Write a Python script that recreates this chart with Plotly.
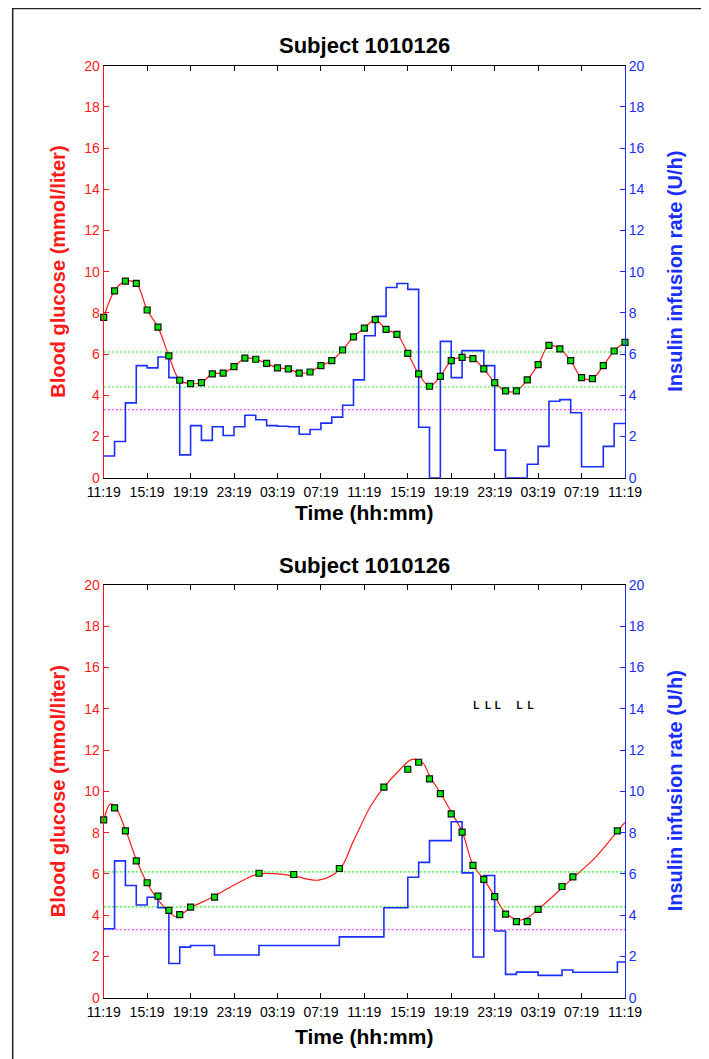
import plotly.graph_objects as go

TITLE = "Subject 1010126"
TICK_HOURS = list(range(0, 49, 4))
TICK_LABELS = ["11:19", "15:19", "19:19", "23:19", "03:19", "07:19", "11:19",
               "15:19", "19:19", "23:19", "03:19", "07:19", "11:19"]
Y_TICKS = list(range(0, 21, 2))
THRESH_GREEN = [6.1, 4.4]
THRESH_MAGENTA = [3.3]

# ---- top panel ----
top_glucose_hours = list(range(49))
top_glucose = [7.78, 9.07, 9.54, 9.43, 8.14, 7.31, 5.91, 4.73, 4.57, 4.62,
               5.04, 5.08, 5.39, 5.80, 5.75, 5.55, 5.33, 5.28, 5.08, 5.13,
               5.44, 5.68, 6.20, 6.84, 7.26, 7.67, 7.20, 6.96, 6.04, 5.04,
               4.44, 4.92, 5.68, 5.84, 5.78, 5.28, 4.62, 4.21, 4.21, 4.75,
               5.49, 6.42, 6.25, 5.68, 4.86, 4.81, 5.44, 6.15, 6.57]
top_insulin_edges = list(range(49))
top_insulin = [1.05, 1.76, 3.63, 5.44, 5.33, 5.86, 4.86, 1.11, 2.53, 1.81,
               2.47, 2.05, 2.47, 3.03, 2.81, 2.53, 2.50, 2.47, 2.11, 2.34,
               2.65, 2.94, 3.52, 4.75, 6.89, 7.83, 9.23, 9.43, 9.14, 2.45,
               0.0, 6.62, 4.86, 6.17, 6.17, 5.44, 1.34, 0.0, 0.0, 0.65,
               1.52, 3.71, 3.79, 3.15, 0.53, 0.53, 1.52, 2.63]

# ---- bottom panel ----
bot_glucose_hours = [0, 1, 2, 3, 4, 5, 6, 7, 8, 10.2, 14.3, 17.5, 21.7, 25.8,
                     28, 29, 30, 31, 32, 33, 34, 35, 36, 37, 38, 39, 40,
                     42.2, 43.2, 47.3]
bot_glucose = [8.62, 9.20, 8.08, 6.63, 5.57, 4.92, 4.23, 4.03, 4.39, 4.87,
               6.03, 5.97, 6.26, 10.20, 11.07, 11.41, 10.60, 9.89, 8.91, 8.02,
               6.41, 5.73, 4.90, 4.05, 3.69, 3.69, 4.28, 5.39, 5.86, 8.08]
bot_curve_hours = [0, 0.6, 1.0, 2.0, 3.0, 4.0, 5.0, 6.0, 6.7, 8.0, 10.2, 12.3,
                   14.3, 16.0, 17.5, 19.8, 21.7, 23.0, 24.6, 25.8, 27.0, 28.4,
                   29.4, 30.0, 31.0, 32.0, 33.0, 34.0, 35.0, 36.0, 37.0, 38.3,
                   39.0, 40.0, 42.2, 43.2, 45.1, 47.3, 48.0]
bot_curve = [8.6, 9.38, 9.3, 8.15, 6.7, 5.55, 4.75, 4.15, 3.92, 4.36, 4.92, 5.55,
             6.0, 6.0, 5.9, 5.7, 6.2, 7.6, 9.3, 10.2, 10.9, 11.55,
             11.37, 10.75, 9.92, 9.0, 8.05, 6.45, 5.73, 4.92, 4.11, 3.76,
             3.87, 4.28, 5.32, 5.81, 6.70, 8.07, 8.5]
bot_insulin_edges = [0, 1, 2, 3, 4, 5, 6, 7, 8, 10.2, 14.3, 21.7, 25.8, 28, 29,
                     30, 32, 33, 34, 35, 36, 37, 38, 40, 42.2, 43.2, 47.3, 48]
bot_insulin = [3.34, 6.63, 5.44, 4.49, 4.87, 4.36, 1.66, 2.45, 2.53, 2.07,
               2.53, 2.95, 4.36, 5.84, 6.56, 7.61, 8.53, 6.05, 1.97, 5.92,
               3.23, 1.13, 1.24, 1.08, 1.34, 1.23, 1.73]
bot_event_hours = [34.3, 35.4, 36.3, 38.3, 39.3]
bot_event_level = 14.1
bot_event_label = "L"

RED = "#ff1a1a"
BLUE = "#1a2eff"
GREEN_LINE = "#22ee22"
MAGENTA = "#ff44ff"
MARKER_GREEN = "#00e600"
FONT = "Liberation Sans, Arial, Helvetica, sans-serif"

W, H = 709, 1059
OFF = 8  # page body margin


def px(pix):
    return (pix - OFF) / W


def py(pix):
    return 1 - (pix - OFF) / H


X0, X1 = px(103.7), px(625.0)

fig = go.Figure()


def add_panel(ya, yb, xa, ghours, gvals, chours, cvals, edges, ins):
    for v in THRESH_GREEN:
        fig.add_trace(go.Scatter(x=[0, 48], y=[v, v], mode="lines", xaxis=xa, yaxis=yb,
                                 line=dict(color=GREEN_LINE, width=1.1, dash="2px,2px"),
                                 showlegend=False, hoverinfo="skip"))
    for v in THRESH_MAGENTA:
        fig.add_trace(go.Scatter(x=[0, 48], y=[v, v], mode="lines", xaxis=xa, yaxis=yb,
                                 line=dict(color=MAGENTA, width=1.2, dash="2px,2px"),
                                 showlegend=False, hoverinfo="skip"))
    fig.add_trace(go.Scatter(x=chours, y=cvals, mode="lines", xaxis=xa, yaxis=ya,
                             line=dict(color=RED, width=1.2, shape="spline", smoothing=1.0),
                             showlegend=False))
    fig.add_trace(go.Scatter(x=edges, y=list(ins) + [ins[-1]], mode="lines", xaxis=xa, yaxis=yb,
                             line=dict(color=BLUE, width=1.6, shape="hv"),
                             showlegend=False))
    fig.add_trace(go.Scatter(x=ghours, y=gvals, mode="markers", xaxis=xa, yaxis=yb,
                             marker=dict(symbol="square", size=6, color=MARKER_GREEN,
                                         line=dict(color="#111111", width=1.2)),
                             showlegend=False, cliponaxis=False))


add_panel("y", "y2", "x", top_glucose_hours, top_glucose, top_glucose_hours, top_glucose,
          top_insulin_edges, top_insulin)
add_panel("y3", "y4", "x2", bot_glucose_hours, bot_glucose, bot_curve_hours, bot_curve,
          bot_insulin_edges, bot_insulin)

fig.add_trace(go.Scatter(x=bot_event_hours, y=[bot_event_level] * len(bot_event_hours),
                         mode="text", text=["<b>%s</b>" % bot_event_label] * len(bot_event_hours),
                         textfont=dict(family=FONT, size=10, color="#000000"),
                         xaxis="x2", yaxis="y4", showlegend=False))

xcommon = dict(domain=[X0, X1], range=[0, 48], tickmode="array", tickvals=TICK_HOURS,
               ticktext=TICK_LABELS, ticks="inside", ticklen=5, tickcolor="#000000",
               showline=True, linecolor="#000000", linewidth=1, mirror="ticks",
               showgrid=False, zeroline=False, automargin=False, ticklabelstandoff=1,
               tickfont=dict(family=FONT, size=14, color="#000000"))


def ycommon(color, dom=None):
    d = dict(range=[0, 20], tickmode="array", tickvals=Y_TICKS, ticks="inside", ticklen=5,
             tickcolor=color, showline=True, linecolor=color, linewidth=1,
             showgrid=False, zeroline=False, automargin=False,
             tickfont=dict(family=FONT, size=14, color=color))
    if dom is not None:
        d["domain"] = dom
    return d


top_dom = [py(477.7), py(65.7)]
bot_dom = [py(997.7), py(585.0)]

fig.update_layout(
    template="none",
    width=W, height=H, margin=dict(l=0, r=0, t=0, b=0, pad=0, autoexpand=False),
    paper_bgcolor="white", plot_bgcolor="white", showlegend=False,
    xaxis=dict(anchor="y", **xcommon),
    xaxis2=dict(anchor="y3", **xcommon),
    yaxis=dict(anchor="x", side="left", **ycommon(RED, top_dom)),
    yaxis2=dict(anchor="x", overlaying="y", side="right", **ycommon(BLUE)),
    yaxis3=dict(anchor="x2", side="left", **ycommon(RED, bot_dom)),
    yaxis4=dict(anchor="x2", overlaying="y3", side="right", **ycommon(BLUE)),
)

ann = []
for (tcy, xty, cy) in [(45, 513, 271.7), (565, 1036, 791.3)]:
    ann.append(dict(text="<b>%s</b>" % TITLE, x=(X0 + X1) / 2, y=py(tcy), xref="paper", yref="paper",
                    showarrow=False, xanchor="center", yanchor="middle",
                    font=dict(family=FONT, size=22, color="#000000")))
    ann.append(dict(text="<b>Time (hh:mm)</b>", x=(X0 + X1) / 2, y=py(xty), xref="paper", yref="paper",
                    showarrow=False, xanchor="center", yanchor="middle",
                    font=dict(family=FONT, size=21, color="#000000")))
    ann.append(dict(text="<b>Blood glucose (mmol/liter)</b>", x=px(58), y=py(cy), xref="paper",
                    yref="paper", showarrow=False, xanchor="center", yanchor="middle", textangle=-90,
                    font=dict(family=FONT, size=20, color=RED)))
    ann.append(dict(text="<b>Insulin infusion rate (U/h)</b>", x=px(675), y=py(cy), xref="paper",
                    yref="paper", showarrow=False, xanchor="center", yanchor="middle", textangle=-90,
                    font=dict(family=FONT, size=20, color=BLUE)))
fig.update_layout(annotations=ann)

fig.add_shape(type="rect", xref="paper", yref="paper", x0=px(12.7), x1=px(707),
              y0=-0.01, y1=py(8.6), line=dict(color="#222222", width=1.5), layer="above")

fig.write_html("out.html")
